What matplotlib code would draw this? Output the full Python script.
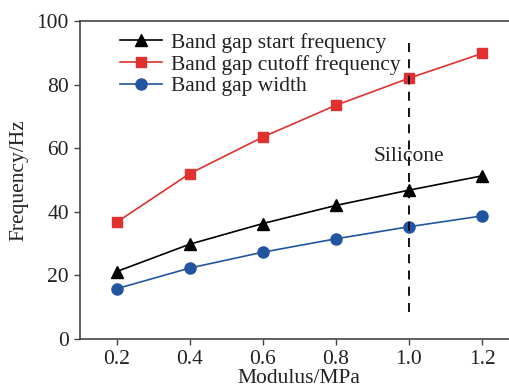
import matplotlib
matplotlib.use("Agg")
import matplotlib.pyplot as plt

modulus = [0.2, 0.4, 0.6, 0.8, 1.0, 1.2]
start_freq = [21.2, 29.8, 36.3, 42.0, 46.8, 51.3]
cutoff_freq = [36.7, 52.0, 63.5, 73.5, 82.0, 89.8]
gap_width = [15.8, 22.3, 27.3, 31.5, 35.3, 38.7]
x_ticks = [0.2, 0.4, 0.6, 0.8, 1.0, 1.2]
y_ticks = [0, 20, 40, 60, 80, 100]

plt.rcParams["font.family"] = ["Liberation Serif", "DejaVu Serif"]
FS = 15.5

fig = plt.figure(figsize=(5.09, 3.87), dpi=100)
W, H = 509, 387
ax = fig.add_axes([80 / W, 1 - 339 / H, (518.6 - 80) / W, (339 - 21) / H])

ax.plot(modulus, start_freq, color="black", marker="^", markersize=8, lw=1.2,
        label="Band gap start frequency")
ax.plot(modulus, cutoff_freq, color="#e03030", marker="s", markersize=7, lw=1.2,
        label="Band gap cutoff frequency")
ax.plot(modulus, gap_width, color="#2255a0", marker="o", markersize=8, lw=1.2,
        label="Band gap width")

ax.plot([1.0, 1.0], [8.5, 93], color="black", lw=1.3, ls=(0, (5, 4)))
ax.text(1.0, 57.5, "Silicone", ha="center", va="center", fontsize=FS, color="#222222")

ax.set_xlim(0.1, 1.3)
ax.set_ylim(0, 100)
ax.set_xticks(x_ticks)
ax.set_xticklabels([f"{v:.1f}" for v in x_ticks])
ax.set_yticks(y_ticks)
ax.tick_params(direction="out", length=4, width=1, colors="#444444", labelcolor="#222222",
               labelsize=FS, pad=4)
for side in ["left", "bottom", "top"]:
    ax.spines[side].set_color("#444444")
    ax.spines[side].set_linewidth(1.2)
ax.spines["right"].set_visible(False)

ax.set_xlabel("Modulus/MPa", fontsize=FS, color="#222222", labelpad=0)
ax.set_ylabel("Frequency/Hz", fontsize=FS, color="#222222", labelpad=6)

leg = ax.legend(loc="upper left", bbox_to_anchor=(0.091, 0.963), frameon=False,
                fontsize=FS, handlelength=1.95, handletextpad=0.4,
                labelspacing=0.08, borderaxespad=0, borderpad=0)
for t in leg.get_texts():
    t.set_color("#222222")

fig.savefig("out.png", dpi=100)
